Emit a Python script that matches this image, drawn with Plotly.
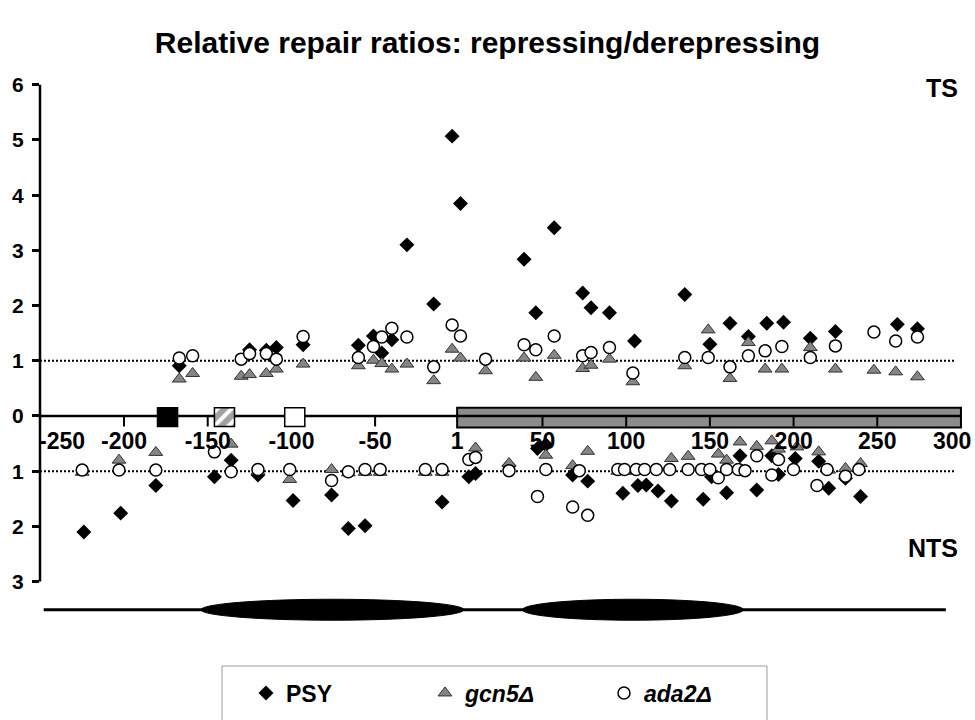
import plotly.graph_objects as go

# ---------------- data ----------------
# Template-strand (TS) repair ratios (plotted above the axis)
ts_psy_pos = [-167, -125, -115, -109, -93, -60, -51, -46, -40, -31, -15, -4, 1, 39, 46, 57, 74, 79, 90,
              105, 135, 150, 162, 173, 184, 194, 210, 225, 262, 274]
ts_psy_val = [0.91, 1.20, 1.19, 1.24, 1.29, 1.28, 1.45, 1.14, 1.38, 3.10, 2.03, 5.07, 3.85, 2.84, 1.87,
              3.41, 2.23, 1.96, 1.87, 1.36, 2.20, 1.30, 1.68, 1.44, 1.68, 1.70, 1.41, 1.53, 1.66, 1.58]

ts_mut_pos = [-167, -159, -130, -125, -115, -109, -93, -60, -51, -46, -40, -31, -15, -4, 1, 16, 39, 46,
              57, 74, 79, 90, 104, 135, 149, 162, 173, 183, 193, 210, 225, 248, 261, 274]
ts_gcn5_val = [0.67, 0.77, 0.72, 0.75, 0.77, 0.85, 0.94, 0.91, 1.01, 0.95, 0.85, 0.94, 0.64, 1.21, 1.05,
               0.82, 1.05, 0.70, 1.10, 0.86, 0.92, 1.03, 0.62, 0.91, 1.56, 0.68, 1.33, 0.85, 0.85, 1.24,
               0.85, 0.83, 0.80, 0.71]
ts_ada2_val = [1.05, 1.09, 1.03, 1.13, 1.13, 1.03, 1.44, 1.06, 1.26, 1.43, 1.59, 1.43, 0.89, 1.65, 1.45,
               1.03, 1.29, 1.20, 1.45, 1.09, 1.15, 1.24, 0.78, 1.06, 1.06, 0.89, 1.09, 1.18, 1.26, 1.06,
               1.27, 1.52, 1.36, 1.43]

# Non-transcribed-strand (NTS) repair ratios (plotted below the axis)
nts_psy_pos = [-224, -202, -181, -146, -136, -120, -99, -76, -66, -56, -10, 6, 10, 30, 47, 52, 68, 77,
               98, 107, 112, 119, 127, 146, 151, 160, 168, 178, 187, 191, 201, 215, 221, 231, 240]
nts_psy_val = [2.10, 1.76, 1.26, 1.10, 0.80, 1.07, 1.53, 1.43, 2.04, 1.99, 1.56, 1.10, 1.04, 0.90, 0.59,
               0.52, 1.07, 1.18, 1.40, 1.26, 1.25, 1.36, 1.54, 1.51, 1.10, 1.39, 0.72, 1.34, 0.72, 1.06,
               0.77, 0.82, 1.31, 1.13, 1.46]

nts_gcn5_pos = [-225, -203, -181, -136, -120, -101, -76, -66, -56, -47, -20, -10, 10, 30, 52, 68, 77, 95,
                99, 106, 127, 137, 155, 160, 168, 178, 187, 191, 202, 215, 221, 231, 240]
nts_gcn5_val = [1.02, 0.80, 0.66, 0.51, 1.00, 1.15, 0.97, 1.03, 1.02, 1.02, 1.02, 1.02, 0.58, 0.86, 0.71,
                0.90, 0.64, 1.00, 1.00, 1.00, 0.77, 0.73, 0.69, 0.80, 0.47, 0.55, 0.45, 0.60, 0.56, 0.65,
                0.98, 0.95, 0.86]

nts_ada2_pos = [-225, -203, -181, -146, -136, -120, -101, -76, -66, -56, -47, -20, -10, 6, 10, 30, 47, 52,
                68, 72, 77, 95, 99, 106, 111, 118, 126, 137, 145, 150, 155, 160, 167, 171, 178, 187, 191,
                200, 214, 220, 231, 239]
nts_ada2_val = [0.98, 0.98, 0.98, 0.65, 1.01, 0.97, 0.97, 1.17, 1.01, 0.97, 0.97, 0.97, 0.97, 0.79, 0.75,
                0.99, 1.46, 0.97, 1.65, 0.99, 1.80, 0.97, 0.97, 0.97, 0.97, 0.97, 0.97, 0.97, 0.97, 0.97,
                1.12, 0.97, 0.97, 0.99, 0.72, 1.07, 0.79, 0.97, 1.26, 0.97, 1.09, 0.97]

# axis ticks (the two end labels are placed as edge-aligned annotations)
x_tickvals = [-250, -200, -150, -100, -50, -1, 50, 100, 150, 200, 250, 300]
x_ticktext = ["-250", "-200", "-150", "-100", "-50", "1", "50", "100", "150", "200", "250", "300"]
y_tickvals = [-3, -2, -1, 0, 1, 2, 3, 4, 5, 6]
y_ticktext = ["3", "2", "1", "0", "1", "2", "3", "4", "5", "6"]

# promoter elements, gene (ORF) and nucleosomes
element_pos = [-174, -140, -98]
element_fill = ["black", "white", "white"]
element_pattern = ["", "/", ""]
gene_start, gene_end = -1, 300
nuc_start = [-154, 38]
nuc_end = [3, 170]
dna_start, dna_end = -248, 291

title_text = "Relative repair ratios: repressing/derepressing"

# ---------------- figure ----------------
FONT = "Liberation Sans, Arial, sans-serif"
XR = [-250.2, 305.4]
YR = [-3.877, 6.268]
TICKFONT = dict(family=FONT, size=23, color="black", weight="bold")

fig = go.Figure()

# promoter elements as small boxes on the axis
fig.add_trace(go.Bar(
    x=element_pos, y=[0.34] * len(element_pos), base=-0.19, width=12,
    marker=dict(color=element_fill, line=dict(color="black", width=1.5),
                pattern=dict(shape=element_pattern, fgcolor="black", bgcolor="white",
                             size=10, solidity=0.6)),
    showlegend=False, hoverinfo="skip"))

fig.add_trace(go.Scatter(
    x=ts_psy_pos + nts_psy_pos,
    y=ts_psy_val + [-v for v in nts_psy_val],
    mode="markers", name="PSY",
    marker=dict(symbol="diamond", size=11.5, color="black", line=dict(width=0))))

fig.add_trace(go.Scatter(
    x=ts_mut_pos + nts_gcn5_pos,
    y=ts_gcn5_val + [-v for v in nts_gcn5_val],
    mode="markers", name="<i>gcn5Δ</i>",
    marker=dict(symbol="triangle-up", size=12, color="#858585",
                line=dict(width=1, color="#333333"))))

fig.add_trace(go.Scatter(
    x=ts_mut_pos + nts_ada2_pos,
    y=ts_ada2_val + [-v for v in nts_ada2_val],
    mode="markers", name="<i>ada2Δ</i>",
    marker=dict(symbol="circle", size=12, color="white",
                line=dict(width=1.5, color="black"))))

shapes = []
# gene box (grey) and axis line
shapes.append(dict(type="rect", xref="x", yref="y", x0=gene_start, x1=gene_end, y0=-0.21, y1=0.15,
                   fillcolor="#8c8c8c", line=dict(color="black", width=2), layer="below"))
shapes.append(dict(type="line", xref="x", yref="y", x0=XR[0], x1=gene_end, y0=0, y1=0,
                   line=dict(color="black", width=2.5), layer="below"))
# x tick marks (drawn below the axis line / inside the gene box)
for tv in x_tickvals[1:]:
    if tv in (-1, 300):
        continue
    shapes.append(dict(type="line", xref="x", yref="y", x0=tv, x1=tv, y0=0, y1=-0.19,
                       line=dict(color="black", width=2), layer="below"))
# reference lines at ratio 1
for yy in (1, -1):
    shapes.append(dict(type="line", xref="x", yref="y", x0=XR[0], x1=296, y0=yy, y1=yy,
                       line=dict(color="black", width=2, dash="2px,2px"), layer="below"))
# DNA line with nucleosomes
shapes.append(dict(type="line", xref="x", yref="y", x0=dna_start, x1=dna_end, y0=-3.51, y1=-3.51,
                   line=dict(color="black", width=3)))
for s, e in zip(nuc_start, nuc_end):
    shapes.append(dict(type="circle", xref="x", yref="y", x0=s, x1=e, y0=-3.70, y1=-3.32,
                       fillcolor="black", line=dict(color="black", width=1)))
# legend box
shapes.append(dict(type="rect", xref="paper", yref="paper", x0=0.1957, x1=0.7817, y0=-0.1786,
                   y1=-0.0643, line=dict(color="#999999", width=1)))

LABEL_Y = -0.45
annotations = [
    dict(text="TS", xref="paper", yref="y", x=0.989, y=5.95, xanchor="right", yanchor="middle",
         showarrow=False, font=dict(family=FONT, size=25, color="black", weight="bold")),
    dict(text="NTS", xref="paper", yref="y", x=0.989, y=-2.39, xanchor="right", yanchor="middle",
         showarrow=False, font=dict(family=FONT, size=25, color="black", weight="bold")),
    # edge tick labels kept inside the picture
    dict(text=x_ticktext[0], xref="paper", yref="y", x=0, y=LABEL_Y, xanchor="left",
         yanchor="middle", xshift=-3, showarrow=False, font=TICKFONT),
    dict(text=x_ticktext[-1], xref="paper", yref="y", x=1, y=LABEL_Y, xanchor="right",
         yanchor="middle", xshift=3, showarrow=False, font=TICKFONT),
]
# y axis line (only over the tick range)
shapes.append(dict(type="line", xref="paper", yref="y", x0=0, x1=0, y0=-3, y1=6,
                   line=dict(color="black", width=2.5)))

pos0 = (0 - YR[0]) / (YR[1] - YR[0])
inner_text = [""] + x_ticktext[1:-1] + [""]

fig.update_layout(
    width=975, height=720, autosize=False,
    margin=dict(l=40, r=5, t=70, b=90),
    paper_bgcolor="white", plot_bgcolor="white",
    title=dict(text=title_text, x=0.5, xref="container", xanchor="center",
               y=1 - 42 / 720, yref="container", yanchor="middle",
               font=dict(family=FONT, size=30, color="black", weight="bold")),
    barmode="overlay",
    shapes=shapes, annotations=annotations,
    showlegend=True,
    legend=dict(orientation="h", x=0.2215, xanchor="left", y=-0.1125, yanchor="middle",
                bgcolor="rgba(0,0,0,0)", borderwidth=0,
                font=dict(family=FONT, size=23, color="black", weight="bold"),
                entrywidth=134, entrywidthmode="pixels", traceorder="normal"),
    xaxis=dict(range=XR, anchor="free", position=pos0, side="bottom", automargin=False,
               showline=False, zeroline=False, showgrid=False,
               tickmode="array", tickvals=x_tickvals, ticktext=inner_text,
               ticks="", ticklabelstandoff=9, ticklabeloverflow="allow",
               tickfont=TICKFONT),
    yaxis=dict(range=YR, showline=False, zeroline=False, showgrid=False, automargin=False,
               tickmode="array", tickvals=y_tickvals, ticktext=y_ticktext,
               ticks="outside", ticklen=7, tickwidth=2.5, tickcolor="black",
               ticklabelstandoff=4,
               tickfont=dict(family=FONT, size=21, color="black", weight="bold")),
)

fig.write_html("out.html", config={"displayModeBar": False},
               post_script="document.body.style.margin='0';")
